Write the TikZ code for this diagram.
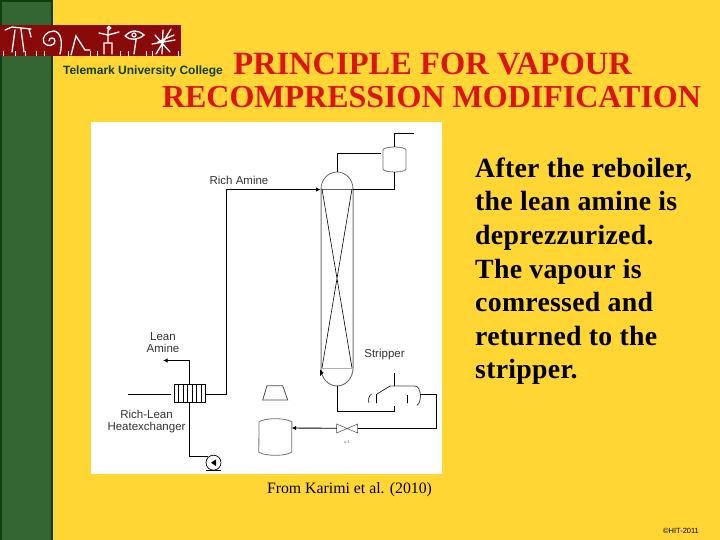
\documentclass[tikz,border=0pt]{standalone}
\usepackage{fontspec}
\setmainfont{Liberation Serif}
\setsansfont{Liberation Sans}
\newfontfamily\bodyface[LetterSpace=1.0]{Liberation Serif}
\usetikzlibrary{arrows.meta}
\definecolor{slide}{HTML}{FFD633}
\definecolor{band}{HTML}{336633}
\definecolor{bandedge}{HTML}{0F3D0F}
\definecolor{logored}{HTML}{8A0A0A}
\definecolor{titlered}{HTML}{DC1414}
\tikzset{
  pipe/.style={draw=black, line width=.9pt},
  feed/.style={pipe, -{Latex[length=4.5pt,width=4.5pt]}},
  vessel/.style={draw=black!55, line width=.8pt},
  tag/.style={font=\sffamily\fontsize{11.5}{13}\selectfont, text=black!80, inner sep=0pt},
  rune/.style={draw=white, line width=1.3pt, line cap=round},
}
\begin{document}
\begin{tikzpicture}[x=1pt, y=-1pt]
\useasboundingbox (0,0) rectangle (720,540);
\fill[slide] (0,0) rectangle (720,540);

\fill[bandedge] (0,0) rectangle (52.5,540);
\fill[band] (2,2) rectangle (50.5,540);

\fill[logored] (0,25) rectangle (181,56);
% logo
\draw[rune] (5,30) -- (12,27) -- (31,29) (15,30) -- (12,52) (21,29) -- (24,52) (29,29) -- (31,37);
\draw[rune] (49,41) .. controls (49,37) and (55,37) .. (55,41) .. controls (55,46) and (47,47) .. (44,43) .. controls (41,37) and (47,31) .. (54,31) .. controls (61,32) and (63,42) .. (60,54);
\draw[rune] (71,55) -- (76,36) -- (85,50) -- (90,50);
\draw[rune] (109,28) circle (1.6) (99,33) -- (108,35) -- (119,32) (108,30) -- (108,42) (104,54) -- (104,43) -- (112,43) -- (112,54);
\draw[rune] (125,36) .. controls (132,29) and (138,30) .. (144,35) .. controls (138,40) and (130,41) .. (125,36) (134,35) circle (2) (136,40) -- (134,54);
\draw[rune] (152,44) -- (175,40) (155,35) -- (170,52) (171,29) -- (156,54) (163,30) -- (162,54) (158,42) -- (174,35);
\foreach \x in {3,15,25,36,44,68,90,97,120,128,146,152,178}
  \draw[white, line width=.5pt] (\x,56) -- (\x,51);

\node[font=\sffamily\bfseries\fontsize{12}{12}\selectfont, text=bandedge, inner sep=0pt] (College) at (143,71) {Telemark University College};
\node[font=\bfseries\fontsize{32.5}{32}\selectfont, text=titlered, inner sep=0pt] (Title1) at (432.5,63.5) {PRINCIPLE FOR VAPOUR};
\node[font=\bfseries\fontsize{32}{32}\selectfont, text=titlered, inner sep=0pt] (Title2) at (431.5,97.5) {RECOMPRESSION MODIFICATION};

\fill[white] (91,122) rectangle (442,474);

% stripper column and vessels
\draw[vessel, line width=1pt] (321,189) -- (321,368) arc (180:0:16 and 18) -- (353,189);
\draw[vessel, draw=black!60] (321,189) arc (-180:0:16 and 17);
\draw[pipe, draw=black!60] (321,189) -- (353,189);
\draw[draw=black!30, line width=.5pt] (321,368) -- (353,368);
\draw[pipe, line width=.6pt] (322,189) -- (352,368) (352,189) -- (322,368);
\fill (320,369.5) -- (320,376) -- (323.5,372.7) -- cycle;
\draw[vessel] (383,150) arc (-180:-90:11.5 and 3) arc (-90:0:11.5 and 3) -- (406,169) arc (0:90:11.5 and 3) arc (90:180:11.5 and 3) -- cycle;
\draw[vessel] (259,422) arc (-160:-20:17.5 and 5) -- (291.7,452) arc (20:160:17.5 and 5) -- cycle;
\draw[vessel, draw=black!70] (267,385.7) -- (282.7,385.7) -- (287.7,400) -- (262.7,400) -- cycle;

\coordinate (ColTop) at (337,172);
\coordinate (ColFeed) at (320.5,189.5);
\coordinate (ColReflux) at (353,189.5);
\coordinate (ColBot) at (337,386);
\coordinate (DrumIn) at (381,153.5);
\coordinate (DrumTop) at (394,147);
\coordinate (DrumBot) at (394,172);
\coordinate (DrumOut) at (414,133.5);
\coordinate (HXleft) at (205.7,394);
\coordinate (HXfar) at (128,394);
\coordinate (HXnear) at (171,394);
\coordinate (HXtop) at (189.5,384);
\coordinate (HXbot) at (189.5,403);
\coordinate (LeanEnd) at (163,360.5);
\coordinate (PumpIn) at (208,456);
\coordinate (RebIn) at (394,406);
\coordinate (RebOut) at (420,394);
\coordinate (TankIn) at (291.7,428);

% heat exchanger
\foreach \x in {174,178.5,183,187.5,192,196.5,201,205.5}
  \draw[pipe, line width=.7pt] (\x,384) -- (\x,402.7);
\draw[pipe, line width=.7pt] (174,384) -- (205.5,384) (174,402.7) -- (205.5,402.7);

% pump
\node[draw, circle, line width=.7pt, minimum size=15pt, inner sep=0pt] (Pump) at (213.5,462.7) {};
\fill (211,462.7) -- (216,459.5) -- (216,466) -- cycle;
\draw[pipe] (206,470.3) -- (221,470.3);

% reboiler
\draw[vessel, draw=black!70] (390,386) -- (415,386) arc (-90:70:5.5 and 10);
\draw[pipe, line width=.6pt] (377,394) -- (390,386) (376.5,394) -- (376.5,403) (407.5,395) -- (407.5,403);
\draw[pipe, line width=.6pt] (371.5,394) .. controls (368.5,396) and (368,400) .. (369,403);
\draw[pipe] (394,373) -- (394,386);

% valve
\node[inner sep=0pt, minimum width=21pt, minimum height=9pt] (Valve) at (347.2,428.3) {};
\draw[pipe, line width=.5pt, draw=black!70] (336.7,424) -- (357.7,433) -- (357.7,424) -- (336.7,433) -- cycle;

% pipes
\draw[pipe] (DrumIn) -| (ColTop);
\draw[pipe] (DrumTop) |- (DrumOut);
\draw[pipe] (DrumBot) |- (ColReflux);
\draw[feed] (HXleft) -| (226.5,189.5) -- (ColFeed);
\draw[pipe] (HXfar) -- (HXnear);
\draw[feed] (HXtop) |- (LeanEnd);
\draw[pipe] (HXbot) |- (PumpIn);
\draw[pipe] (ColBot) |- (394,411) -- (RebIn);
\draw[pipe] (RebOut) -| (436.7,428.3) -- (Valve.east);
\draw[feed] (Valve.west) -- (TankIn);

\node[tag] (Rich) at (239,180) {Rich Amine};
\node[tag, align=center] (Lean) at (163,342.5) {Lean\\[-1pt]Amine};
\node[tag, align=center] (Heat) at (146.5,422) {Rich-Lean\\[-1pt]Heatexchanger};
\node[tag] (Stripper) at (384.5,355) {Stripper};
\node[tag, font=\sffamily\fontsize{4}{4}\selectfont, text=black!60] (Vlabel) at (347,442) {u-1};

\node[align=left, anchor=north west, inner sep=0pt, font=\bodyface\bfseries\fontsize{27.8}{33.6}\selectfont] (Body) at (475,157.5) {After the reboiler,\\the lean amine is\\deprezzurized.\\The vapour is\\comressed and\\returned to the\\stripper.};
\node[font=\fontsize{15.8}{17}\selectfont, inner sep=0pt] (Source) at (349.5,490) {From Karimi et al. (2010)};
\node[font=\sffamily\fontsize{7.5}{8}\selectfont, inner sep=0pt] (Copy) at (681,530.5) {©HIT-2011};
\end{tikzpicture}
\end{document}
